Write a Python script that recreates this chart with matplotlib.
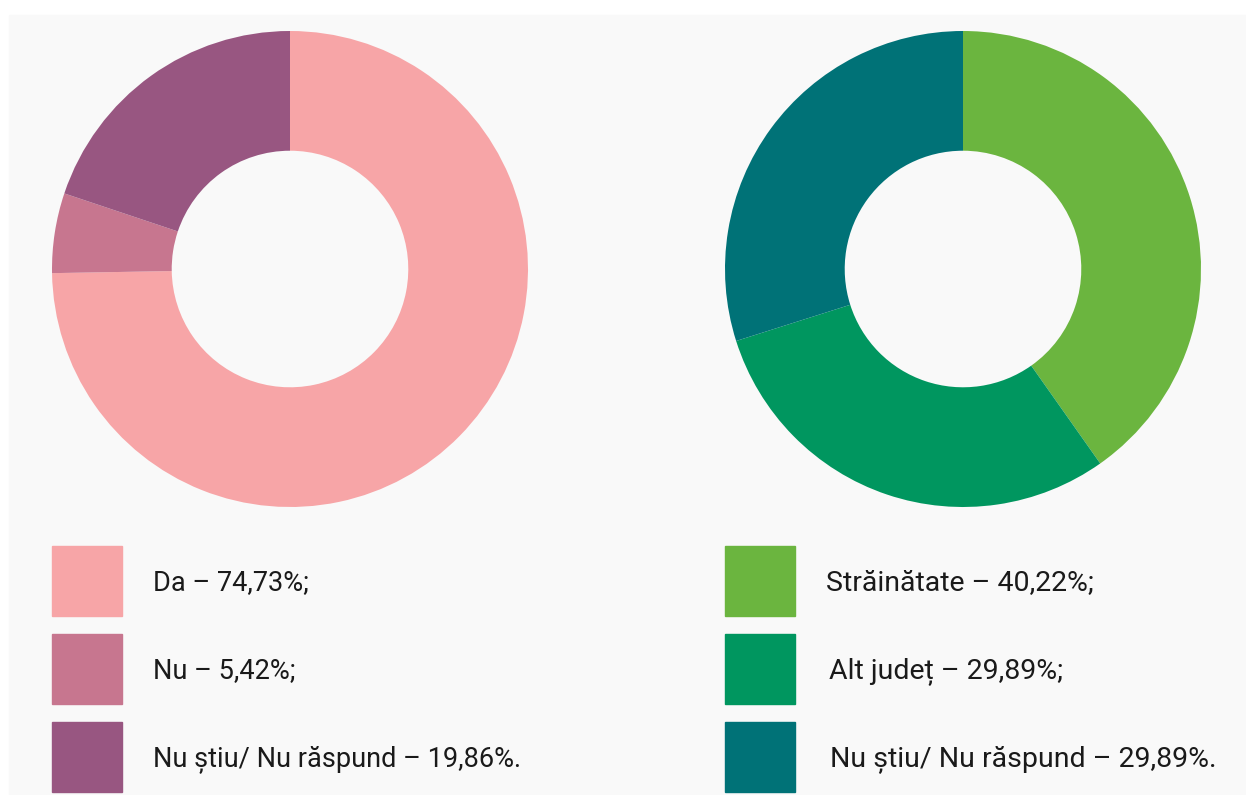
import matplotlib.pyplot as plt
from matplotlib.patches import Rectangle

# date sondaj
labels_a = ["Da", "Nu", "Nu știu/ Nu răspund"]
values_a = [74.73, 5.42, 19.86]
colors_a = ["#F7A5A7", "#C7768F", "#985681"]
ends_a = [";", ";", "."]

labels_b = ["Străinătate", "Alt județ", "Nu știu/ Nu răspund"]
values_b = [40.22, 29.89, 29.89]
colors_b = ["#6BB53F", "#00965F", "#007277"]
ends_b = [";", ";", "."]

W, H = 1246, 795
plt.rcParams["font.family"] = ["Roboto", "DejaVu Sans"]
fig = plt.figure(figsize=(W / 100, H / 100), dpi=100)
fig.patch.set_facecolor("white")

# fundal gri
bg = fig.add_axes([0, 0, 1, 1])
bg.set_xlim(0, W)
bg.set_ylim(H, 0)
bg.axis("off")
bg.add_patch(Rectangle((9, 15), W - 9, H - 15, color="#F9F9F9", zorder=0))


def donut(cx, cy, r, values, colors):
    ax = fig.add_axes([(cx - r) / W, (H - cy - r) / H, 2 * r / W, 2 * r / H])
    ax.pie(values, colors=colors, startangle=90, counterclock=False,
           radius=1, wedgeprops=dict(width=0.503, linewidth=0))
    ax.set_xlim(-1, 1)
    ax.set_ylim(-1, 1)
    ax.axis("off")


donut(290, 269, 238, values_a, colors_a)
donut(963, 269, 238, values_b, colors_b)


def legenda(x_box, x_txt, labels, values, colors, ends, fs):
    for i, (lab, v, c, e) in enumerate(zip(labels, values, colors, ends)):
        y = 546 + i * 88
        bg.add_patch(Rectangle((x_box, y), 70, 70, color=c, zorder=2))
        txt = f"{lab} – " + f"{v:.2f}".replace(".", ",") + f"%{e}"
        bg.text(x_txt[i], y + 37, txt, fontsize=fs, color="#1a1a1a",
                va="center", ha="left", zorder=3)


legenda(52, [153, 153, 153], labels_a, values_a, colors_a, ends_a, 19.5)
legenda(725, [826, 829, 830], labels_b, values_b, colors_b, ends_b, 20.5)

fig.savefig("out.png", dpi=100, facecolor="white")
